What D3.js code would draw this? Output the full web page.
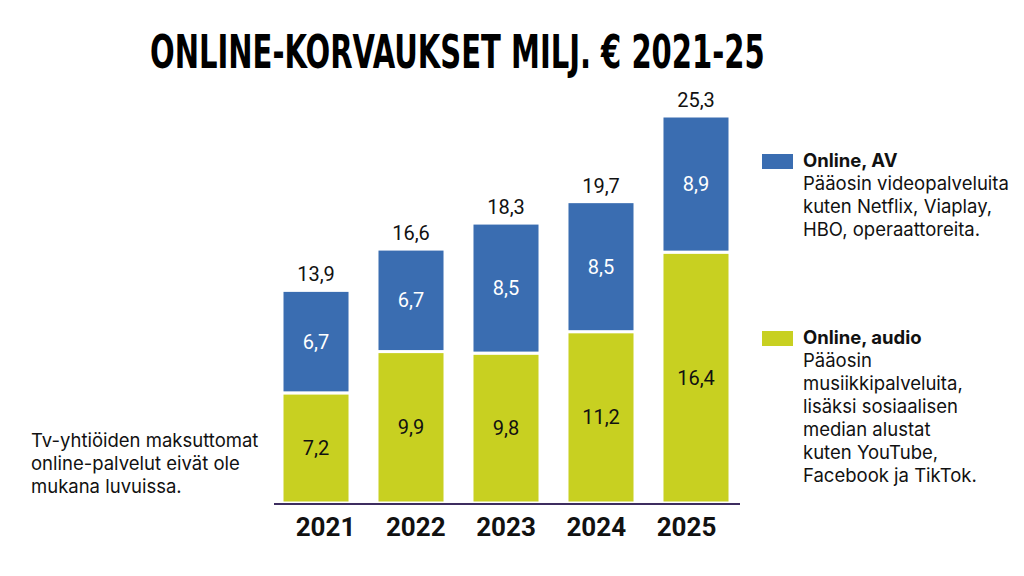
<!DOCTYPE html>
<html><head><meta charset="utf-8">
<script src="https://cdn.jsdelivr.net/npm/d3@7"></script>
<style>body{margin:0;background:#fff}svg{display:block}</style>
</head><body>
<script>
const years = ["2021","2022","2023","2024","2025"];
const audio = [7.2, 9.9, 9.8, 11.2, 16.4];
const av = [6.7, 6.7, 8.5, 8.5, 8.9];
const totals = [13.9, 16.6, 18.3, 19.7, 25.3];
const seriesNames = ["Online, audio", "Online, AV"];
const colors = {audio: "#c8d021", av: "#3a6db1"};
const fmt = v => d3.format(".1f")(v).replace(".", ",");

const W = 1024, H = 576;
const svg = d3.select("body").append("svg").attr("width", W).attr("height", H);

const x = d3.scaleBand().domain(years).range([282, 730]).paddingInner(0.284).paddingOuter(0);
const xLabel = d3.scalePoint().domain(years).range([325, 686]);
const y = d3.scaleLinear().domain([0, 25.3]).range([503, 116]);

const data = years.map((yr, i) => ({year: yr, audio: audio[i], av: av[i], total: totals[i]}));
const stack = d3.stack().keys(["audio", "av"])(data);

const g = svg.append("g");
stack.forEach(layer => {
  g.selectAll(null).data(layer).enter().append("rect")
    .attr("x", d => x(d.data.year))
    .attr("width", x.bandwidth())
    .attr("y", d => y(d[1]))
    .attr("height", d => y(d[0]) - y(d[1]))
    .attr("fill", colors[layer.key])
    .attr("stroke", "#fff").attr("stroke-width", 3);
  g.selectAll(null).data(layer).enter().append("text")
    .attr("x", d => x(d.data.year) + x.bandwidth() / 2)
    .attr("y", d => (y(d[0]) + y(d[1])) / 2 + 7)
    .attr("text-anchor", "middle")
    .attr("font-family", "Roboto, 'DejaVu Sans', sans-serif")
    .attr("font-size", 20)
    .attr("fill", layer.key === "av" ? "#fff" : "#111")
    .text(d => fmt(d[1] - d[0]));
});

g.selectAll(".tot").data(data).enter().append("text")
  .attr("x", d => x(d.year) + x.bandwidth() / 2)
  .attr("y", d => y(d.total) - 9)
  .attr("text-anchor", "middle")
  .attr("font-family", "Roboto, 'DejaVu Sans', sans-serif")
  .attr("font-size", 20).attr("fill", "#111")
  .text(d => fmt(d.total));

// baseline
svg.append("line").attr("x1", 274).attr("x2", 740).attr("y1", 504).attr("y2", 504)
  .attr("stroke", "#3d2d5f").attr("stroke-width", 2);

const xAxis = svg.append("g").attr("transform", "translate(0,504)")
  .call(d3.axisBottom(xLabel).tickSize(0).tickPadding(9));
xAxis.select(".domain").remove();
xAxis.selectAll("text").attr("font-family", "Roboto, 'DejaVu Sans', sans-serif")
  .attr("font-weight", "bold").attr("font-size", 26).attr("fill", "#111")
  .attr("dy", "0.9em");

// title (natural width measured, then scaled horizontally to fit)
const title = svg.append("text").attr("x", 0).attr("y", 0)
  .attr("font-family", "'DejaVu Sans Condensed', 'Liberation Sans Narrow', sans-serif")
  .attr("font-weight", "bold").attr("font-size", 46)
  .attr("fill", "#000")
  .text("ONLINE-KORVAUKSET MILJ. € 2021-25");
const tw = title.node().getComputedTextLength();
title.attr("transform", `translate(150,68) scale(${615 / tw},1)`);

// legend
const legend = [
  {key: "av", name: seriesNames[1], y: 154, lines: ["Pääosin videopalveluita", "kuten Netflix, Viaplay,", "HBO, operaattoreita."]},
  {key: "audio", name: seriesNames[0], y: 331, lines: ["Pääosin", "musiikkipalveluita,", "lisäksi sosiaalisen", "median alustat", "kuten YouTube,", "Facebook ja TikTok."]}
];
legend.forEach(l => {
  svg.append("rect").attr("x", 762).attr("y", l.y).attr("width", 31).attr("height", 15).attr("fill", colors[l.key]);
  const t = svg.append("text").attr("x", 803).attr("y", l.y + 13)
    .attr("font-family", "Inter, Roboto, sans-serif").attr("font-size", 18.5).attr("fill", "#111");
  t.append("tspan").attr("font-weight", "bold").text(l.name);
  l.lines.forEach(line => t.append("tspan").attr("x", 803).attr("dy", 23).text(line));
});

// note
const note = ["Tv-yhtiöiden maksuttomat", "online-palvelut eivät ole", "mukana luvuissa."];
const nt = svg.append("text").attr("x", 31).attr("y", 447)
  .attr("font-family", "Inter, Roboto, sans-serif").attr("font-size", 18.5).attr("fill", "#111");
note.forEach((line, i) => nt.append("tspan").attr("x", 31).attr("dy", i === 0 ? 0 : 23).text(line));
</script>
</body></html>
